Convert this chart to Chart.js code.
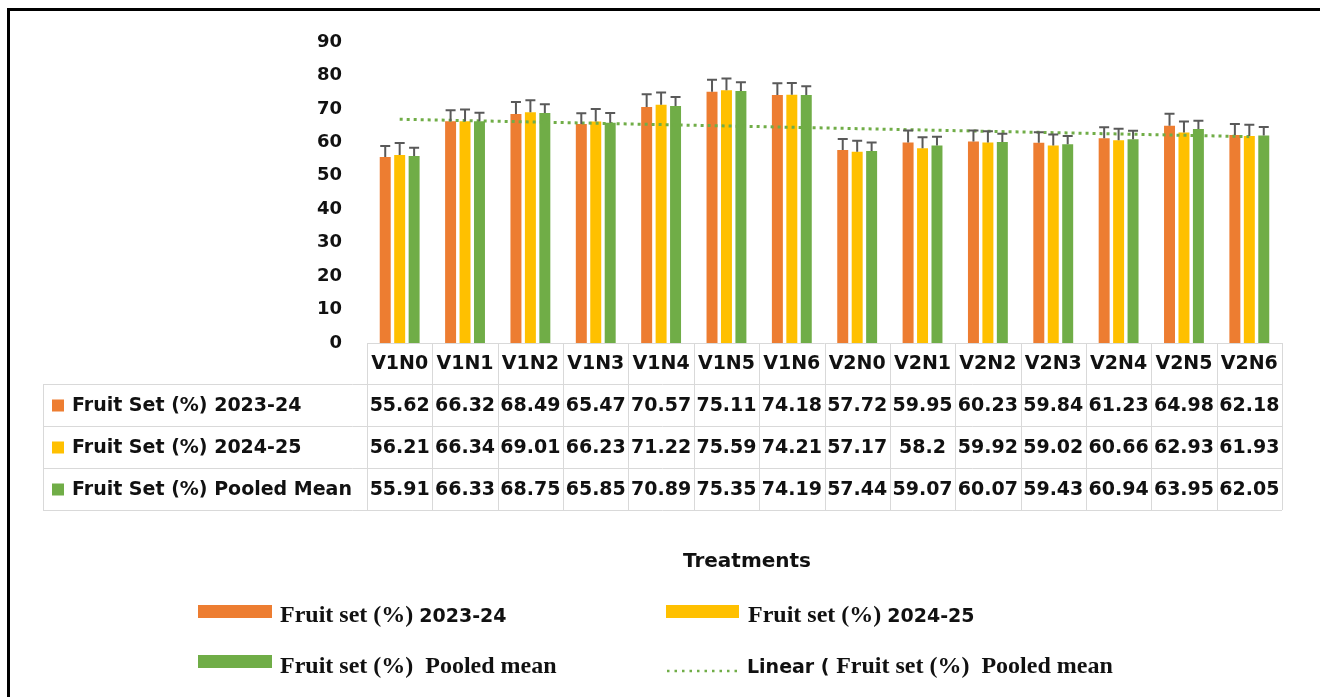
<!DOCTYPE html>
<html>
<head>
<meta charset="utf-8">
<script src="https://cdn.jsdelivr.net/npm/chart.js@4.4.1/dist/chart.umd.min.js"></script>
<style>
  html, body { margin: 0; padding: 0; background: #fff; }
  #wrap { position: relative; width: 1320px; height: 697px; }
</style>
</head>
<body>
<div id="wrap"><canvas id="c"></canvas></div>
<script>
// ---- Data ----
const categories = ['V1N0','V1N1','V1N2','V1N3','V1N4','V1N5','V1N6','V2N0','V2N1','V2N2','V2N3','V2N4','V2N5','V2N6'];
const fs2324   = [55.62,66.32,68.49,65.47,70.57,75.11,74.18,57.72,59.95,60.23,59.84,61.23,64.98,62.18];
const fs2425   = [56.21,66.34,69.01,66.23,71.22,75.59,74.21,57.17,58.2,59.92,59.02,60.66,62.93,61.93];
const fsPooled = [55.91,66.33,68.75,65.85,70.89,75.35,74.19,57.44,59.07,60.07,59.43,60.94,63.95,62.05];
// error bar (plus) sizes
const err2324   = [3.3,3.3,3.6,3.2,3.8,3.6,3.5,3.3,3.6,3.3,3.2,3.3,3.6,3.3];
const err2425   = [3.6,3.5,3.6,3.7,3.7,3.5,3.5,3.3,3.3,3.4,3.3,3.4,3.3,3.3];
const errPooled = [2.5,2.5,2.6,2.9,2.7,2.6,2.6,2.5,2.6,2.5,2.5,2.5,2.5,2.5];
// linear trendline end points
const trendLine = [66.9,null,null,null,null,null,null,null,null,null,null,null,null,61.7];
const rowLabels = ['Fruit Set (%) 2023-24','Fruit Set (%) 2024-25','Fruit Set (%) Pooled Mean'];
const axisTitle = 'Treatments';

const ORANGE = '#ED7D31', YELLOW = '#FFC000', GREEN = '#70AD47';
const TXT = '#111111';
const SANS = '"DejaVu Sans", sans-serif';
const SERIF = '"Liberation Serif", "Times New Roman", serif';

const rowValues = [fs2324, fs2425, fsPooled];
const rowColors = [ORANGE, YELLOW, GREEN];

// ---- Plugins ----
const errorBars = {
  id: 'errorBars',
  afterDatasetsDraw(chart) {
    const ctx = chart.ctx;
    const y = chart.scales.y;
    ctx.save();
    ctx.strokeStyle = '#595959';
    ctx.lineWidth = 2;
    chart.data.datasets.forEach((ds, di) => {
      if (!ds.errors) return;
      const meta = chart.getDatasetMeta(di);
      meta.data.forEach((el, i) => {
        const p = el.getProps(['x','y'], true);
        const top = y.getPixelForValue(ds.data[i] + ds.errors[i]);
        ctx.beginPath();
        ctx.moveTo(p.x, p.y);
        ctx.lineTo(p.x, top);
        ctx.moveTo(p.x - 5, top);
        ctx.lineTo(p.x + 5, top);
        ctx.stroke();
      });
    });
    ctx.restore();
  }
};

function drawRun(ctx, x, y, parts) {
  parts.forEach(p => {
    ctx.font = p.font;
    ctx.fillText(p.text, x, y);
    x += ctx.measureText(p.text).width;
  });
}

const tableAndLegend = {
  id: 'tableAndLegend',
  afterDraw(chart) {
    const ctx = chart.ctx;
    const xs = chart.scales.x;
    const area = chart.chartArea;
    const n = categories.length;
    const colW = (area.right - area.left) / n;
    const left = area.left, right = area.right;
    const tableLeft = 43;
    const rowsY = [343, 384, 426, 468, 510];
    ctx.save();
    // frame
    ctx.fillStyle = '#000';
    ctx.fillRect(7, 8, 1313, 3);
    ctx.fillRect(7, 8, 3, 689);

    // grid lines
    ctx.strokeStyle = '#D9D9D9';
    ctx.lineWidth = 1;
    ctx.beginPath();
    ctx.moveTo(left, rowsY[0] + 0.5); ctx.lineTo(right, rowsY[0] + 0.5);
    for (let r = 1; r < rowsY.length; r++) {
      ctx.moveTo(tableLeft, rowsY[r] + 0.5); ctx.lineTo(right, rowsY[r] + 0.5);
    }
    for (let i = 0; i <= n; i++) {
      const gx = Math.round(left + i * colW) + 0.5;
      ctx.moveTo(gx, rowsY[0]); ctx.lineTo(gx, rowsY[4]);
    }
    ctx.moveTo(tableLeft + 0.5, rowsY[1]); ctx.lineTo(tableLeft + 0.5, rowsY[4]);
    ctx.stroke();

    // header
    ctx.fillStyle = TXT;
    ctx.textAlign = 'center';
    ctx.textBaseline = 'middle';
    ctx.font = 'bold 19px ' + SANS;
    categories.forEach((c, i) => {
      ctx.fillText(c, xs.getPixelForValue(i), (rowsY[0] + rowsY[1]) / 2 + 1);
    });
    // rows
    rowValues.forEach((vals, r) => {
      const cy = (rowsY[r + 1] + rowsY[r + 2]) / 2 + 1;
      ctx.textAlign = 'center';
      ctx.fillStyle = TXT;
      vals.forEach((v, i) => ctx.fillText(String(v), xs.getPixelForValue(i), cy));
      ctx.fillStyle = rowColors[r];
      ctx.fillRect(52, cy - 6.5, 12, 12);
      ctx.fillStyle = TXT;
      ctx.textAlign = 'left';
      ctx.fillText(rowLabels[r], 72, cy);
    });

    // axis title
    ctx.textAlign = 'center';
    ctx.textBaseline = 'middle';
    ctx.font = 'bold 20px ' + SANS;
    ctx.fillText(axisTitle, 747, 562);

    // legend
    ctx.textAlign = 'left';
    ctx.textBaseline = 'alphabetic';
    const serifF = 'bold 24px ' + SERIF;
    const sansF = 'bold 19px ' + SANS;
    const labelParts = [
      [{text: 'Fruit set (%) ', font: serifF}, {text: chart.data.datasets[0].label, font: sansF}],
      [{text: 'Fruit set (%) ', font: serifF}, {text: chart.data.datasets[1].label, font: sansF}],
      [{text: 'Fruit set (%)  ' + chart.data.datasets[2].label, font: serifF}],
      [{text: 'Linear ( ', font: sansF}, {text: 'Fruit set (%)  Pooled mean', font: serifF}]
    ];
    // swatches
    ctx.fillStyle = ORANGE; ctx.fillRect(198, 605, 74, 13);
    ctx.fillStyle = YELLOW; ctx.fillRect(666, 605, 73, 13);
    ctx.fillStyle = GREEN;  ctx.fillRect(198, 655, 74, 13);
    ctx.strokeStyle = GREEN; ctx.lineWidth = 2.5;
    ctx.setLineDash([2.5, 5]);
    ctx.beginPath(); ctx.moveTo(667, 671); ctx.lineTo(739, 671); ctx.stroke();
    ctx.setLineDash([]);
    ctx.fillStyle = TXT;
    drawRun(ctx, 280, 622, labelParts[0]);
    drawRun(ctx, 748, 622, labelParts[1]);
    drawRun(ctx, 280, 673, labelParts[2]);
    drawRun(ctx, 747, 673, labelParts[3]);
    ctx.restore();
  }
};

// ---- Chart ----
new Chart(document.getElementById('c'), {
  data: {
    labels: categories,
    datasets: [
      { type: 'bar', label: '2023-24', data: fs2324, errors: err2324, backgroundColor: ORANGE, order: 1,
        categoryPercentage: 0.663, barPercentage: 0.76 },
      { type: 'bar', label: '2024-25', data: fs2425, errors: err2425, backgroundColor: YELLOW, order: 1,
        categoryPercentage: 0.663, barPercentage: 0.76 },
      { type: 'bar', label: 'Pooled mean', data: fsPooled, errors: errPooled, backgroundColor: GREEN, order: 1,
        categoryPercentage: 0.663, barPercentage: 0.76 },
      { type: 'line', label: 'Linear (Pooled mean)', data: trendLine, spanGaps: true, order: 0,
        borderColor: GREEN, borderWidth: 3, borderDash: [3, 4], pointRadius: 0, fill: false }
    ]
  },
  options: {
    responsive: true,
    maintainAspectRatio: false,
    animation: false,
    devicePixelRatio: 1,
    layout: { padding: { top: 42, right: 38, bottom: 354, left: 0 } },
    plugins: { legend: { display: false }, tooltip: { enabled: false }, title: { display: false } },
    scales: {
      x: { type: 'category', display: false, offset: true, grid: { display: false } },
      y: {
        min: 0, max: 90,
        grid: { display: false, drawTicks: false },
        border: { display: false },
        ticks: { stepSize: 10, padding: 25, color: TXT, font: { family: 'DejaVu Sans', weight: 'bold', size: 18 } },
        afterFit(scale) { scale.width = 367; }
      }
    }
  },
  plugins: [errorBars, tableAndLegend]
});
</script>
</body>
</html>
